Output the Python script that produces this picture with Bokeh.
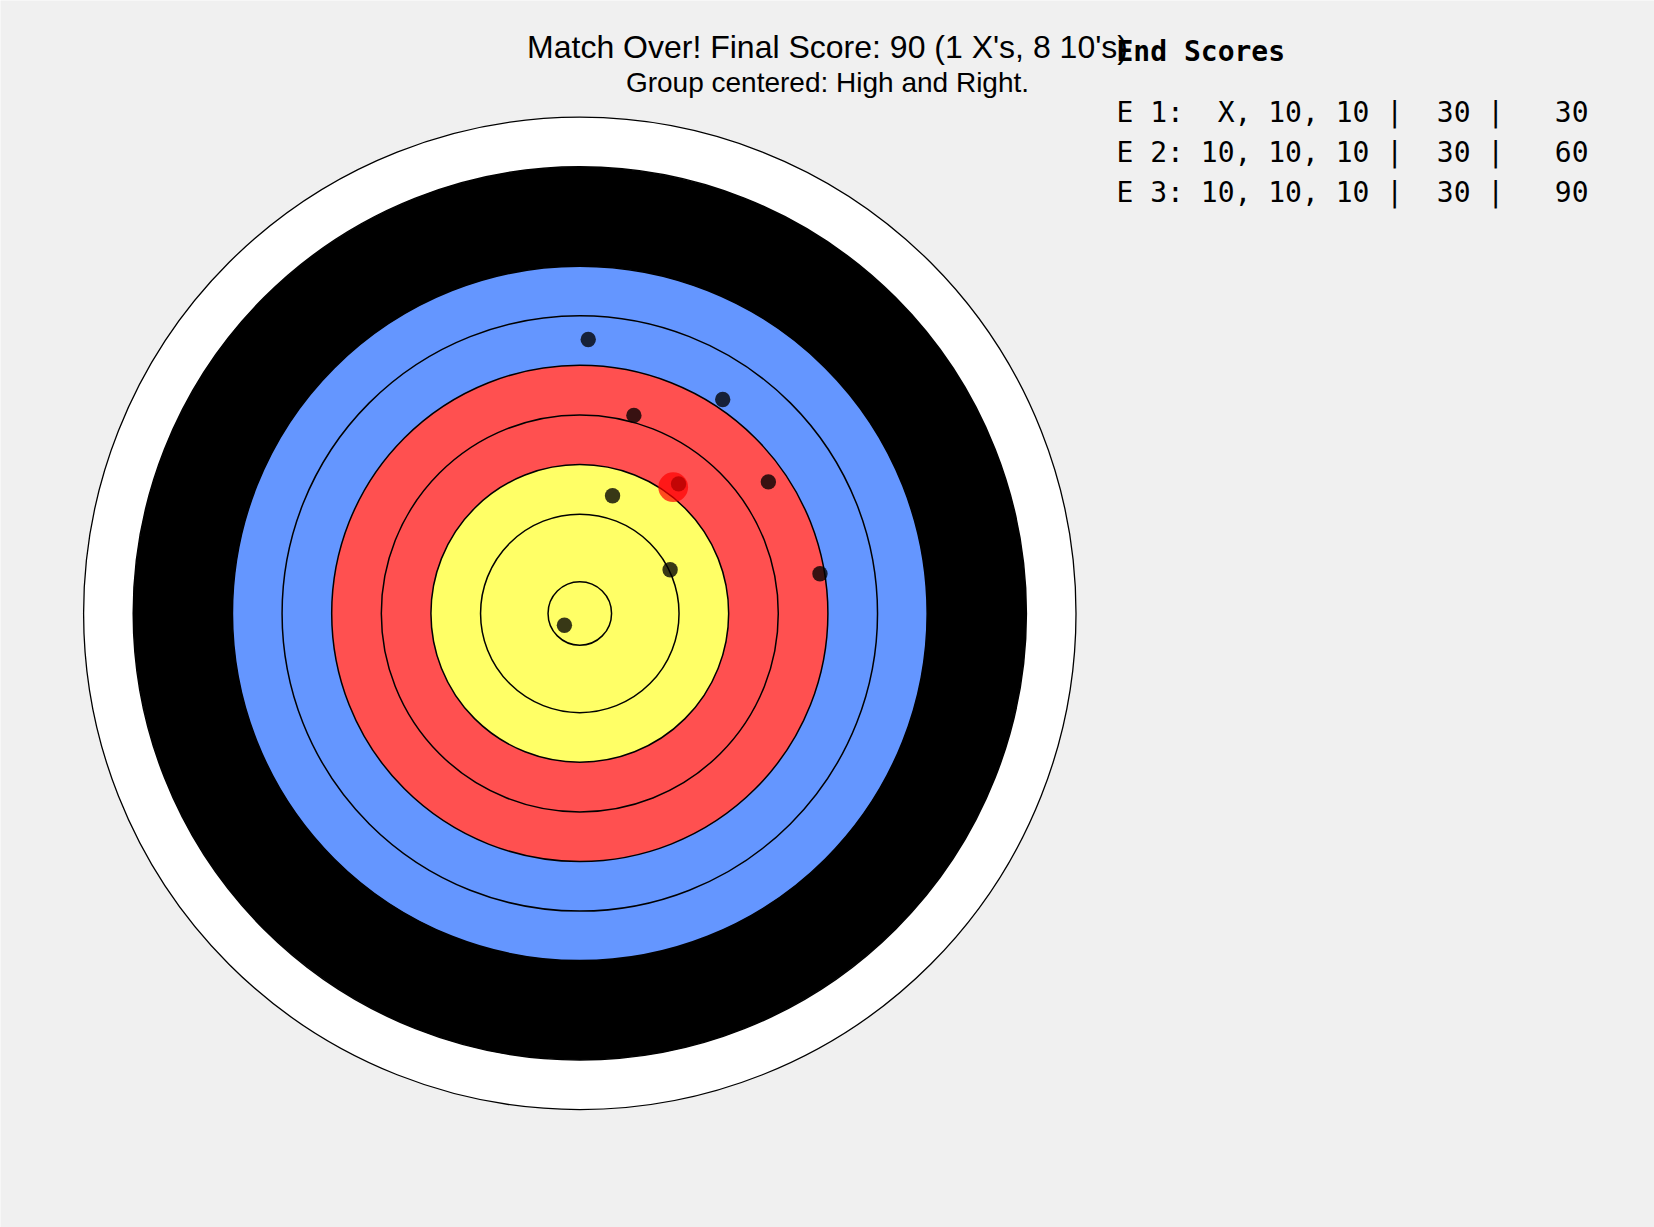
import numpy as np
from bokeh.plotting import figure
from bokeh.models import Range1d, Label
from bokeh.embed import file_html
from bokeh.resources import INLINE

# ---- data ----
ring_radii = [10, 9, 7, 6, 5, 4, 3, 2, 0.64]
ring_colors = ["#ffffff", "#000000", "#6496ff", "#6496ff", "#ff5050", "#ff5050",
               "#ffff66", "#ffff66", "#ffff66"]

shot_x = [0.17, 2.88, 1.09, 3.80, 1.99, 0.66, 4.84, 1.82, -0.31]
shot_y = [5.52, 4.31, 3.99, 2.65, 2.61, 2.37, 0.80, 0.88, -0.24]

end_labels = ["E 1", "E 2", "E 3"]
end_arrows = [["X", "10", "10"], ["10", "10", "10"], ["10", "10", "10"]]
end_totals = [30, 30, 30]
running_totals = [30, 60, 90]

title_text = "Match Over! Final Score: 90 (1 X's, 8 10's)"
subtitle_text = "Group centered: High and Right."
table_header = "End Scores"

# ---- layout ----
W, H = 1654, 1227
CX, CY = 579.3, 612.9      # target centre in pixels (from top-left)
UNIT = 49.62               # pixels per data unit

def dx(px):
    return (px - CX) / UNIT

def dy(py):
    return (CY - py) / UNIT

p = figure(width=W, height=H, output_backend="svg", toolbar_location=None,
           x_range=Range1d(-CX / UNIT, (W - CX) / UNIT),
           y_range=Range1d(-(H - CY) / UNIT, CY / UNIT),
           min_border=0, min_border_left=0, min_border_right=0,
           min_border_top=0, min_border_bottom=0)
p.axis.visible = False
p.grid.visible = False
p.outline_line_color = None
p.background_fill_color = "#f0f0f0"
p.border_fill_color = "#f0f0f0"

# target rings
for r, c in zip(ring_radii, ring_colors):
    p.circle(x=[0], y=[0], radius=r, fill_color=c, line_color="black",
             line_width=1.5 if r < 10 else 1.3)

# shots
p.circle(x=shot_x, y=shot_y, radius=0.155, fill_color="black", fill_alpha=0.78,
         line_color=None)

# group centre
mx, my = float(np.mean(shot_x)), float(np.mean(shot_y))
p.circle(x=[mx], y=[my], radius=0.3, fill_color="red", fill_alpha=0.7, line_color=None)

# titles
p.add_layout(Label(x=dx(827), y=dy(46.5), text=title_text, text_align="center",
                   text_baseline="alphabetic", text_font="Liberation Sans",
                   text_font_size="32px", text_color="black"))
p.add_layout(Label(x=dx(827), y=dy(81.5), text=subtitle_text, text_align="center",
                   text_baseline="alphabetic", text_font="Liberation Sans",
                   text_font_size="28px", text_color="black"))

NBSP = "\u00a0"

# score table
p.add_layout(Label(x=dx(1116), y=dy(51), text=table_header.replace(" ", NBSP),
                   text_align="left",
                   text_baseline="alphabetic", text_font="DejaVu Sans Mono",
                   text_font_style="bold", text_font_size="28px", text_color="black"))
row_baselines = [111.5, 151.5, 191.5]
for lab, arrows, tot, run, by in zip(end_labels, end_arrows, end_totals,
                                     running_totals, row_baselines):
    line = f"{lab}: {', '.join(a.rjust(2) for a in arrows)} | {tot:3d} | {run:4d}"
    p.add_layout(Label(x=dx(1116), y=dy(by), text=line.replace(" ", NBSP),
                       text_align="left",
                       text_baseline="alphabetic", text_font="DejaVu Sans Mono",
                       text_font_size="28px", text_color="black"))

open("out.html", "w").write(file_html(p, INLINE))
